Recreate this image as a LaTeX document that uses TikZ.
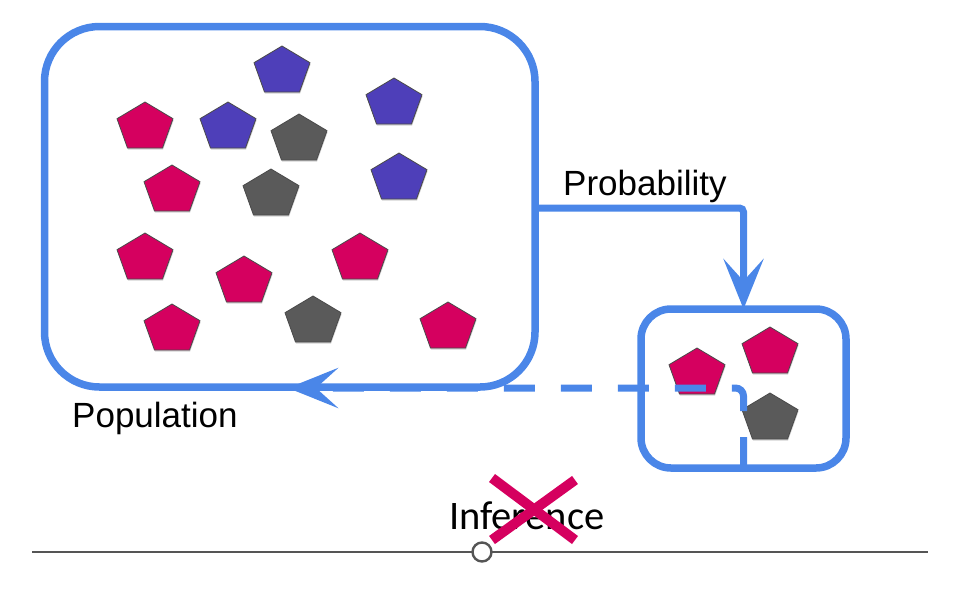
\documentclass[tikz,border=0pt]{standalone}
\usepackage{fontspec}
\setmainfont{Liberation Sans}
\newfontfamily\calfont{Carlito}
\usetikzlibrary{arrows.meta,shadows}
\definecolor{myblue}{HTML}{4A86E8}
\definecolor{mypink}{HTML}{D5005F}
\definecolor{mypurple}{HTML}{4E3FB9}
\definecolor{mygray}{HTML}{5A5A5A}
\definecolor{pentedge}{HTML}{4A4A4A}
\definecolor{axisgray}{HTML}{555555}
\tikzset{
  pics/pent/.style={code={
    \path[fill=#1, draw=pentedge, line width=0.8pt,
          drop shadow={shadow xshift=0.6pt, shadow yshift=-1.6pt, opacity=0.35}]
      (0,-23) -- (28,-6.3) -- (17.5,23) -- (-17.5,23) -- (-28,-6.3) -- cycle;
  }},
  bigbox/.style={draw=myblue, line width=7.5pt, rounded corners=#1, inner sep=0pt, outer sep=0pt},
  conn/.style={draw=myblue, line width=7pt, -{Stealth[length=50pt, width=40pt, inset=22pt]}},
  lbl/.style={font=\fontsize{35}{42}\selectfont, inner sep=0pt, anchor=base west},
  xline/.style={draw=mypink, line width=10pt},
}
\begin{document}
\begin{tikzpicture}[x=1pt,y=-1pt]
\useasboundingbox (0,0) rectangle (960,600);

% boxes
\node[bigbox=55pt, minimum width=490.5pt, minimum height=360.5pt] (pop) at (289.75,206.75) {};
\node[bigbox=30pt, minimum width=205pt, minimum height=159pt] (samp) at (743.5,388.5) {};

% population pentagons
\pic at (282,69) {pent=mypurple};
\pic at (145,125) {pent=mypink};
\pic at (228,125) {pent=mypurple};
\pic at (299,137) {pent=mygray};
\pic at (394,101) {pent=mypurple};
\pic at (172,188) {pent=mypink};
\pic at (271,192) {pent=mygray};
\pic at (399,176) {pent=mypurple};
\pic at (145,256) {pent=mypink};
\pic at (244,279) {pent=mypink};
\pic at (360,256) {pent=mypink};
\pic at (172,327) {pent=mypink};
\pic at (313,319) {pent=mygray};
\pic at (448,325) {pent=mypink};

% sample pentagons
\pic at (697,371) {pent=mypink};
\pic at (770,350) {pent=mypink};
\pic at (770,416) {pent=mygray};

% labels
\node[lbl] (poplbl) at (72,427) {Population};
\node[lbl] (problbl) at (563,195) {Probability};
\node[lbl, font=\calfont\fontsize{40.5}{48}\selectfont] (inflbl) at (449,529) {Inference};

% connectors
\coordinate (probstart) at (535,208);
\draw[conn, rounded corners=4pt] (probstart) -| (samp.north);
\coordinate (infend) at (288,388);
\draw[conn, dash pattern=on 31pt off 26pt, rounded corners=8pt] (samp.south) |- (infend);

% cross over Inference
\draw[xline] (492,478) -- (575,540);
\draw[xline] (575,480) -- (492,540);

% bottom axis with knob
\coordinate (axisL) at (32,552);
\coordinate (axisR) at (928,552);
\draw[axisgray, line width=2.4pt] (axisL) -- (axisR);
\node[circle, draw=axisgray, line width=2.4pt, fill=white, minimum size=19pt, inner sep=0pt] (knob) at (482,552) {};
\end{tikzpicture}
\end{document}
